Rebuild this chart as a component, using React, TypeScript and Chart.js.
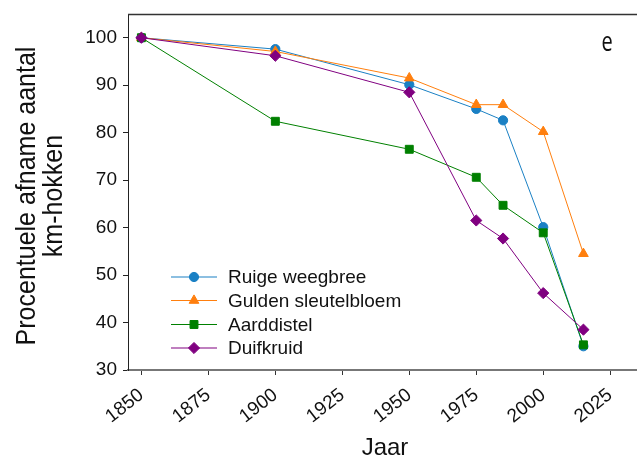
import React, { useEffect, useRef } from 'react';
import { Chart, registerables } from 'chart.js';

Chart.register(...registerables);

const years = [1850, 1900, 1950, 1975, 1985, 2000, 2015];
const ruigeWeegbree = [100, 97.6, 90.1, 85.0, 82.6, 60.1, 35.0];
const guldenSleutelbloem = [100, 97.1, 91.5, 85.9, 85.9, 80.2, 54.5];
const aarddistel = [100, 82.4, 76.5, 70.6, 64.7, 58.9, 35.3];
const duifkruid = [100, 96.2, 88.5, 61.5, 57.7, 46.2, 38.5];

const seriesNames = ['Ruige weegbree', 'Gulden sleutelbloem', 'Aarddistel', 'Duifkruid'];
const seriesColors = ['#1a80c4', '#ff7f0e', '#008000', '#800080'];
const seriesStyles = ['circle', 'triangle', 'rect', 'rectRot'];
const seriesRadius = [4.6, 5.6, 5.6, 5.6];
const seriesValues = [ruigeWeegbree, guldenSleutelbloem, aarddistel, duifkruid];

const xTicks = [1850, 1875, 1900, 1925, 1950, 1975, 2000, 2025];
const yTicks = [30, 40, 50, 60, 70, 80, 90, 100];

const xTitle = 'Jaar';
const yTitle = ['Procentuele afname aantal', 'km-hokken'];
const panelLabel = 'e';

function drawMarker(ctx: CanvasRenderingContext2D, style: string, x: number, y: number, r: number) {
  ctx.beginPath();
  if (style === 'circle') {
    ctx.arc(x, y, r, 0, Math.PI * 2);
  } else if (style === 'triangle') {
    const edge = (3 * r) / Math.sqrt(3);
    const h = (edge * Math.sqrt(3)) / 2;
    ctx.moveTo(x - edge / 2, y + h / 3);
    ctx.lineTo(x + edge / 2, y + h / 3);
    ctx.lineTo(x, y - (2 * h) / 3);
    ctx.closePath();
  } else if (style === 'rect') {
    const s = Math.SQRT1_2 * r;
    ctx.rect(x - s, y - s, 2 * s, 2 * s);
  } else {
    ctx.moveTo(x - r, y);
    ctx.lineTo(x, y - r);
    ctx.lineTo(x + r, y);
    ctx.lineTo(x, y + r);
    ctx.closePath();
  }
  ctx.fill();
  ctx.stroke();
}

const decorPlugin = {
  id: 'decor',
  afterDraw(chart: any) {
    const ctx: CanvasRenderingContext2D = chart.ctx;
    const area = chart.chartArea;
    ctx.save();
    // top frame line
    ctx.strokeStyle = '#333';
    ctx.lineWidth = 1.5;
    ctx.beginPath();
    ctx.moveTo(area.left, area.top + 0.5);
    ctx.lineTo(area.right, area.top + 0.5);
    ctx.stroke();

    // legend
    const rowY = [277, 300.5, 324.5, 348];
    seriesNames.forEach((name, i) => {
      const y = rowY[i];
      ctx.strokeStyle = seriesColors[i];
      ctx.fillStyle = seriesColors[i];
      ctx.lineWidth = 1.2;
      ctx.beginPath();
      ctx.moveTo(171, y);
      ctx.lineTo(217, y);
      ctx.stroke();
      ctx.lineWidth = 1;
      drawMarker(ctx, seriesStyles[i], 194, y, seriesRadius[i]);
      ctx.fillStyle = '#111';
      ctx.font = '19px "Liberation Sans", Arial, sans-serif';
      ctx.textAlign = 'left';
      ctx.textBaseline = 'middle';
      ctx.fillText(name, 228, y + 1);
    });

    // panel label
    ctx.save();
    ctx.fillStyle = '#111';
    ctx.font = '20px "Open Sans", sans-serif';
    ctx.textAlign = 'center';
    ctx.textBaseline = 'alphabetic';
    ctx.translate(607, 51);
    ctx.scale(1, 1.4);
    ctx.fillText(panelLabel, 0, 0);
    ctx.restore();

    // x title
    ctx.fillStyle = '#111';
    ctx.font = '24px "Liberation Sans", Arial, sans-serif';
    ctx.textAlign = 'center';
    ctx.textBaseline = 'alphabetic';
    ctx.fillText(xTitle, 385, 455);

    // y title
    const baselines = [35, 62];
    yTitle.forEach((line, i) => {
      ctx.save();
      ctx.translate(baselines[i], 196);
      ctx.rotate(-Math.PI / 2);
      ctx.scale(1, 1.12);
      ctx.font = '25px "Liberation Sans", Arial, sans-serif';
      ctx.textAlign = 'center';
      ctx.textBaseline = 'alphabetic';
      ctx.fillText(line, 0, 0);
      ctx.restore();
    });
    ctx.restore();
  },
};

export default function App() {
  const ref = useRef<HTMLCanvasElement | null>(null);
  useEffect(() => {
    if (!ref.current) return;
    const datasets = seriesNames.map((name, i) => ({
      label: name,
      data: years.map((x, j) => ({ x, y: seriesValues[i][j] })),
      borderColor: seriesColors[i],
      backgroundColor: seriesColors[i],
      borderWidth: 1,
      pointStyle: seriesStyles[i],
      pointRadius: seriesRadius[i],
      pointBorderWidth: 1,
      pointBackgroundColor: seriesColors[i],
      pointBorderColor: seriesColors[i],
      order: seriesNames.length - i,
      tension: 0,
      clip: false,
    }));
    const chart = new Chart(ref.current, {
      type: 'line',
      data: { datasets },
      options: {
        animation: false,
        responsive: false,
        devicePixelRatio: 1,
        layout: { autoPadding: false, padding: { top: 14, right: 0, left: 0, bottom: 0 } },
        plugins: { legend: { display: false }, tooltip: { enabled: false } },
        scales: {
          x: {
            type: 'linear',
            min: 1845,
            max: 2035,
            afterBuildTicks: (s: any) => {
              s.ticks = xTicks.map((v) => ({ value: v }));
            },
            afterFit: (s: any) => {
              s.height = 89;
              s.paddingLeft = 0;
              s.paddingRight = 0;
            },
            border: { display: true, color: '#777', width: 2 },
            grid: { display: true, drawOnChartArea: false, drawTicks: true, tickLength: 5, color: '#333', lineWidth: 1 },
            ticks: {
              autoSkip: false,
              minRotation: 38,
              maxRotation: 38,
              padding: 9,
              color: '#111',
              font: { family: '"Liberation Sans", Arial, sans-serif', size: 19 },
              callback: (v: any) => String(v),
            },
          },
          y: {
            type: 'linear',
            min: 30,
            max: 105,
            afterBuildTicks: (s: any) => {
              s.ticks = yTicks.map((v) => ({ value: v }));
            },
            afterFit: (s: any) => {
              s.width = 128;
              s.paddingTop = 0;
              s.paddingBottom = 0;
            },
            border: { display: true, color: '#222', width: 1 },
            grid: { display: true, drawOnChartArea: false, drawTicks: true, tickLength: 5, color: '#222', lineWidth: 1 },
            ticks: {
              padding: 6,
              color: '#111',
              font: { family: '"Liberation Sans", Arial, sans-serif', size: 19 },
              callback: (v: any) => String(v),
            },
          },
        },
      },
      plugins: [decorPlugin],
    } as any);
    return () => chart.destroy();
  }, []);
  return (
    <div style={{ position: 'fixed', left: 0, top: 0, width: 637, height: 459, background: '#fff' }}>
      <canvas ref={ref} width={637} height={459} style={{ display: 'block', width: 637, height: 459 }} />
    </div>
  );
}
